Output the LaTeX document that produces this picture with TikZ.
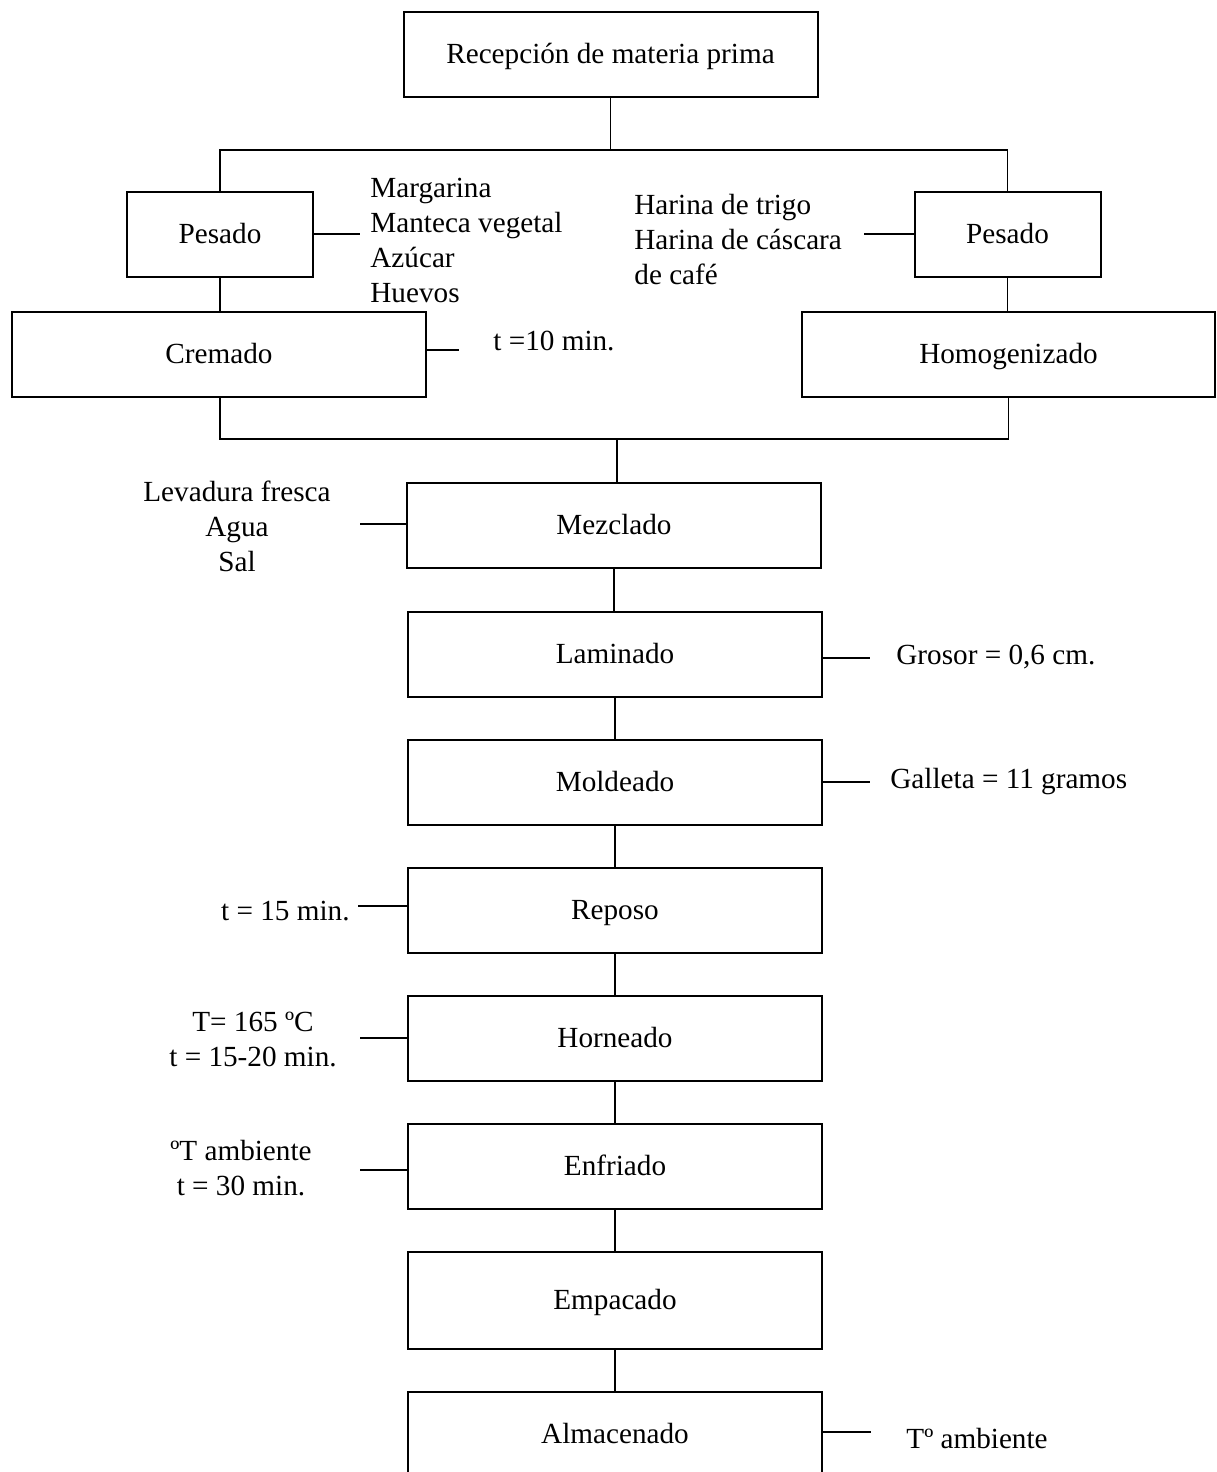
\documentclass[tikz,border=0pt]{standalone}
\usepackage{fontspec}
\setmainfont{Liberation Serif}
\begin{document}
\begin{tikzpicture}[x=0.5pt,y=-0.5pt,
  every node/.style={font=\fontsize{14.6pt}{17.5pt}\selectfont},
  box/.style={draw, line width=1pt, inner sep=0pt, minimum height=42.5pt, text height=12pt, text depth=3pt},
  wide/.style={box, minimum width=207pt},
  narrow/.style={box, minimum width=93pt},
  lbl/.style={inner sep=0pt},
  conn/.style={line width=0.8pt}]
\useasboundingbox (0,0) rectangle (1216,1472);
\clip (0,0) rectangle (1216,1472);
% boxes
\node[wide] (rec) at (610.5,54.5) {Recepción de materia prima};
\node[narrow] (pesL) at (220,234) {Pesado};
\node[narrow] (pesR) at (1007.5,234) {Pesado};
\node[wide] (crem) at (219,354) {Cremado};
\node[wide, minimum width=206.5pt] (homo) at (1008.5,354) {Homogenizado};
\node[wide] (mez) at (614,525) {Mezclado};
\node[wide] (lam) at (615,654) {Laminado};
\node[wide] (mol) at (615,782) {Moldeado};
\node[wide] (rep) at (615,910) {Reposo};
\node[wide] (hor) at (615,1038) {Horneado};
\node[wide] (enf) at (615,1166) {Enfriado};
\node[wide, minimum height=48.5pt] (emp) at (615,1300.5) {Empacado};
\node[wide] (alm) at (615,1434.5) {Almacenado};
% junctions
\coordinate (top) at (610.5,150);
\coordinate (bot) at (617,439);
\draw[conn] (rec) -- (top);
\draw[conn] (pesL.north) |- (top) -| (pesR.north);
\draw[conn] (pesL.south) -- (pesL.south |- crem.north);
\draw[conn] (pesR.south) -- (pesR.south |- homo.north);
\draw[conn] (crem.south -| pesL.south) |- (bot) -| (homo.south);
\draw[conn] (bot) -- (bot |- mez.north);
\draw[conn] (mez.south) -- (mez.south |- lam.north);
\draw[conn] (lam) -- (mol);
\draw[conn] (mol) -- (rep);
\draw[conn] (rep) -- (hor);
\draw[conn] (hor) -- (enf);
\draw[conn] (enf) -- (emp);
\draw[conn] (emp) -- (alm);
% side labels
\node[lbl, anchor=west, align=left] (ingL) at (370,240) {Margarina\\Manteca vegetal\\Azúcar\\Huevos};
\coordinate (sL) at (360,234);
\draw[conn] (pesL.east) -- (sL);
\node[lbl, anchor=west, align=left] (ingR) at (634,240) {Harina de trigo\\Harina de cáscara\\de café};
\coordinate (sR) at (864,234);
\draw[conn] (pesR.west) -- (sR);
\node[lbl, anchor=west] (tc) at (493,341) {t =10 min.};
\coordinate (sC) at (459,350);
\draw[conn] (crem.east |- sC) -- (sC);
\node[lbl, align=center] (ingM) at (237,526) {Levadura fresca\\Agua\\Sal};
\coordinate (sM) at (360,524);
\draw[conn] (mez.west |- sM) -- (sM);
\node[lbl, anchor=west] (gro) at (896,657) {Grosor = 0,6 cm.};
\coordinate (sLa) at (870,658);
\draw[conn] (lam.east |- sLa) -- (sLa);
\node[lbl, anchor=west] (gal) at (890,782) {Galleta = 11 gramos};
\coordinate (sMo) at (870,782);
\draw[conn] (mol.east) -- (sMo);
\node[lbl, anchor=east] (tr) at (350,911) {t = 15 min.};
\coordinate (sRe) at (358,906);
\draw[conn] (rep.west |- sRe) -- (sRe);
\node[lbl, align=center] (th) at (253,1039) {T= 165 ºC\\t = 15-20 min.};
\coordinate (sH) at (360,1038);
\draw[conn] (hor.west) -- (sH);
\node[lbl, align=center] (te) at (241,1168) {ºT ambiente\\t = 30 min.};
\coordinate (sE) at (360,1170);
\draw[conn] (enf.west |- sE) -- (sE);
\node[lbl, anchor=west] (ta) at (906,1438) {Tº ambiente};
\coordinate (sA) at (871,1432);
\draw[conn] (alm.east |- sA) -- (sA);
\end{tikzpicture}
\end{document}
